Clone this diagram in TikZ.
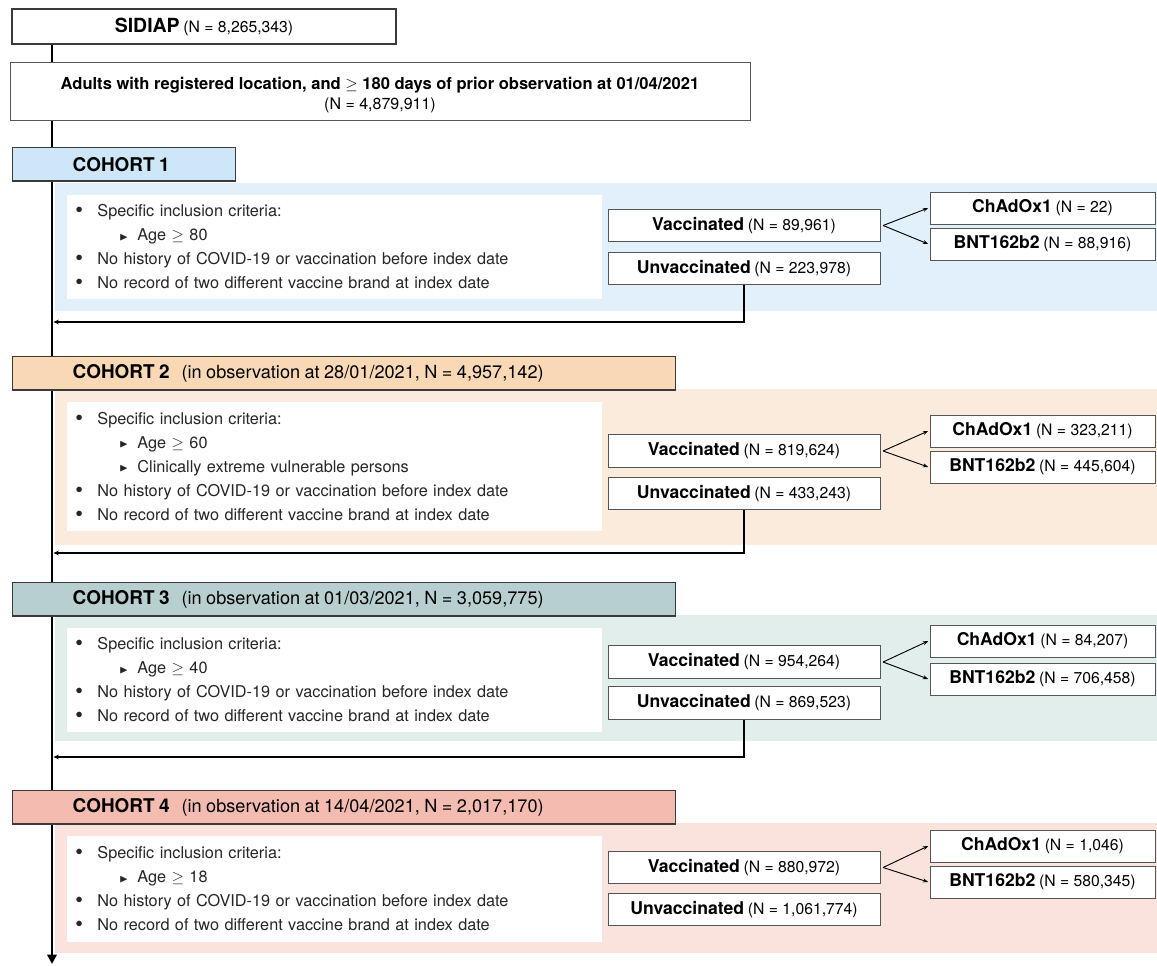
\documentclass[tikz,border=0pt]{standalone}
\usepackage{fontspec}
\setmainfont{TeX Gyre Heros}
\usepackage{amssymb}
\usepackage{graphicx}
\usetikzlibrary{arrows.meta}
\definecolor{hA}{HTML}{CDE7F9}
\definecolor{pA}{HTML}{E2F0FB}
\definecolor{hB}{HTML}{F9D8B5}
\definecolor{pB}{HTML}{FBEBDC}
\definecolor{hC}{HTML}{B8CFCF}
\definecolor{pC}{HTML}{E2EEEB}
\definecolor{hD}{HTML}{F4BCB1}
\definecolor{pD}{HTML}{FAE2DD}
\definecolor{bord}{HTML}{3A3A3A}
\definecolor{tbord}{HTML}{555555}
\newcommand\bl{\makebox[16.5pt][l]{\raisebox{-0.1ex}{\scalebox{1.35}{\textbullet}}}}
\newcommand\sbl{\hspace*{33pt}\makebox[13.5pt][l]{\raisebox{0.05ex}{\scalebox{0.7}{$\blacktriangleright$}}}}
\newcommand\nn[1]{{\fontsize{11.8}{14}\selectfont (N = #1)}}
\newcommand\bt[1]{{\fontsize{13.2}{15}\selectfont\bfseries #1}}
\newcommand\hdt[2]{{\fontsize{14.2}{17}\selectfont\bfseries #1}\hspace{9pt}{\fontsize{13.6}{17}\selectfont #2}}
\tikzset{
  boxbase/.style={draw=tbord, line width=0.65pt, fill=white, inner sep=0pt, align=center},
  vbox/.style={boxbase, minimum width=204pt, minimum height=24.5pt},
  bbox/.style={boxbase, minimum width=168.75pt, minimum height=24pt},
  critbox/.style={fill=white, draw=none, anchor=north west, inner xsep=6pt, inner ysep=0pt,
     minimum width=401.25pt, text width=389pt, align=left,
     font=\fontsize{12.2}{18}\selectfont, text=black!85},
  hdr/.style={draw=bord, line width=1.1pt, anchor=north west, inner xsep=45pt, inner ysep=0pt,
     minimum height=25pt, align=left},
  mainline/.style={line width=1.6pt, -{Triangle[length=7pt,width=7pt]}},
  back/.style={line width=0.8pt, -{Stealth[length=4pt,width=3.5pt]}},
  split/.style={line width=0.7pt, -{Stealth[length=4pt,width=3pt]}},
}
\begin{document}
\begin{tikzpicture}[x=0.75pt,y=-0.75pt]
\useasboundingbox (0,0) rectangle (1157,965);
% panels
\fill[pA] (55,183) rectangle (1157,311);
\fill[pB] (55,389) rectangle (1157,545);
\fill[pC] (55,615) rectangle (1157,741);
\fill[pD] (55,823) rectangle (1157,953);

\coordinate (mbot) at (52,964);
\node[boxbase, draw=bord, line width=1.1pt, minimum width=288pt, minimum height=26.25pt] (sidiap) at (204,26.5)
  {{\fontsize{14.6}{17}\selectfont\bfseries SIDIAP} {\fontsize{11.8}{14}\selectfont (N = 8,265,343)}};
\draw[mainline] (sidiap.south -| mbot) -- (mbot);
\node[boxbase, minimum width=555pt, minimum height=44pt] (adults) at (380,91.5)
  {\rule{0pt}{15pt}{\fontsize{12.4}{15}\selectfont\bfseries Adults with registered location, and $\geq$ 180 days of prior observation at 01/04/2021}\\[3pt]
   {\fontsize{12}{14}\selectfont (N = 4,879,911)}};

% ---------- Cohort 1
\node[hdr, fill=hA, minimum width=167.25pt, text width=77.25pt] (h1) at (12,147) {\hdt{COHORT 1}{}};
\node[critbox, minimum height=78pt] (k1) at (67,195) {%
\bl Specific inclusion criteria:\\
\sbl Age $\geq$ 80\\
\bl No history of COVID-19 or vaccination before index date\\
\bl No record of two different vaccine brand at index date};
\node[vbox] (v1) at (744,225.5) {\bt{Vaccinated} \nn{89,961}};
\node[vbox] (u1) at (744,268.5) {\bt{Unvaccinated} \nn{223,978}};
\node[bbox] (a1) at (1042.5,208) {\bt{ChAdOx1} \nn{22}};
\node[bbox] (b1) at (1042.5,244) {\bt{BNT162b2} \nn{88,916}};
\coordinate (r1) at (53.5,322);
\draw[split] ([xshift=2pt]v1.east) -- ([xshift=-1pt]a1.west);
\draw[split] ([xshift=2pt]v1.east) -- ([xshift=-1pt]b1.west);
\draw[back] (u1.south) |- (r1);

% ---------- Cohort 2
\node[hdr, fill=hB, minimum width=497.25pt, text width=407.25pt] (h2) at (12,356)
  {\hdt{COHORT 2}{(in observation at 28/01/2021, N = 4,957,142)}};
\node[critbox, minimum height=96.75pt] (k2) at (67,402) {%
\bl Specific inclusion criteria:\\
\sbl Age $\geq$ 60\\
\sbl Clinically extreme vulnerable persons\\
\bl No history of COVID-19 or vaccination before index date\\
\bl No record of two different vaccine brand at index date};
\node[vbox] (v2) at (744,451) {\bt{Vaccinated} \nn{819,624}};
\node[vbox] (u2) at (744,493.5) {\bt{Unvaccinated} \nn{433,243}};
\node[bbox] (a2) at (1042.5,431) {\bt{ChAdOx1} \nn{323,211}};
\node[bbox] (b2) at (1042.5,467) {\bt{BNT162b2} \nn{445,604}};
\coordinate (r2) at (53.5,553);
\draw[split] ([xshift=2pt]v2.east) -- ([xshift=-1pt]a2.west);
\draw[split] ([xshift=2pt]v2.east) -- ([xshift=-1pt]b2.west);
\draw[back] (u2.south) |- (r2);

% ---------- Cohort 3
\node[hdr, fill=hC, minimum width=497.25pt, text width=407.25pt] (h3) at (12,582)
  {\hdt{COHORT 3}{(in observation at 01/03/2021, N = 3,059,775)}};
\node[critbox, minimum height=78pt] (k3) at (67,628) {%
\bl Specific inclusion criteria:\\
\sbl Age $\geq$ 40\\
\bl No history of COVID-19 or vaccination before index date\\
\bl No record of two different vaccine brand at index date};
\node[vbox] (v3) at (744,662) {\bt{Vaccinated} \nn{954,264}};
\node[vbox] (u3) at (744,703) {\bt{Unvaccinated} \nn{869,523}};
\node[bbox] (a3) at (1042.5,641) {\bt{ChAdOx1} \nn{84,207}};
\node[bbox] (b3) at (1042.5,679) {\bt{BNT162b2} \nn{706,458}};
\coordinate (r3) at (53.5,757);
\draw[split] ([xshift=2pt]v3.east) -- ([xshift=-1pt]a3.west);
\draw[split] ([xshift=2pt]v3.east) -- ([xshift=-1pt]b3.west);
\draw[back] (u3.south) |- (r3);

% ---------- Cohort 4
\node[hdr, fill=hD, minimum width=497.25pt, text width=407.25pt] (h4) at (12,790)
  {\hdt{COHORT 4}{(in observation at 14/04/2021, N = 2,017,170)}};
\node[critbox, minimum height=79.5pt] (k4) at (67,836) {%
\bl Specific inclusion criteria:\\
\sbl Age $\geq$ 18\\
\bl No history of COVID-19 or vaccination before index date\\
\bl No record of two different vaccine brand at index date};
\node[vbox] (v4) at (744,867.5) {\bt{Vaccinated} \nn{880,972}};
\node[vbox] (u4) at (744,909.5) {\bt{Unvaccinated} \nn{1,061,774}};
\node[bbox] (a4) at (1042.5,846) {\bt{ChAdOx1} \nn{1,046}};
\node[bbox] (b4) at (1042.5,882) {\bt{BNT162b2} \nn{580,345}};
\draw[split] ([xshift=2pt]v4.east) -- ([xshift=-1pt]a4.west);
\draw[split] ([xshift=2pt]v4.east) -- ([xshift=-1pt]b4.west);
\end{tikzpicture}
\end{document}
